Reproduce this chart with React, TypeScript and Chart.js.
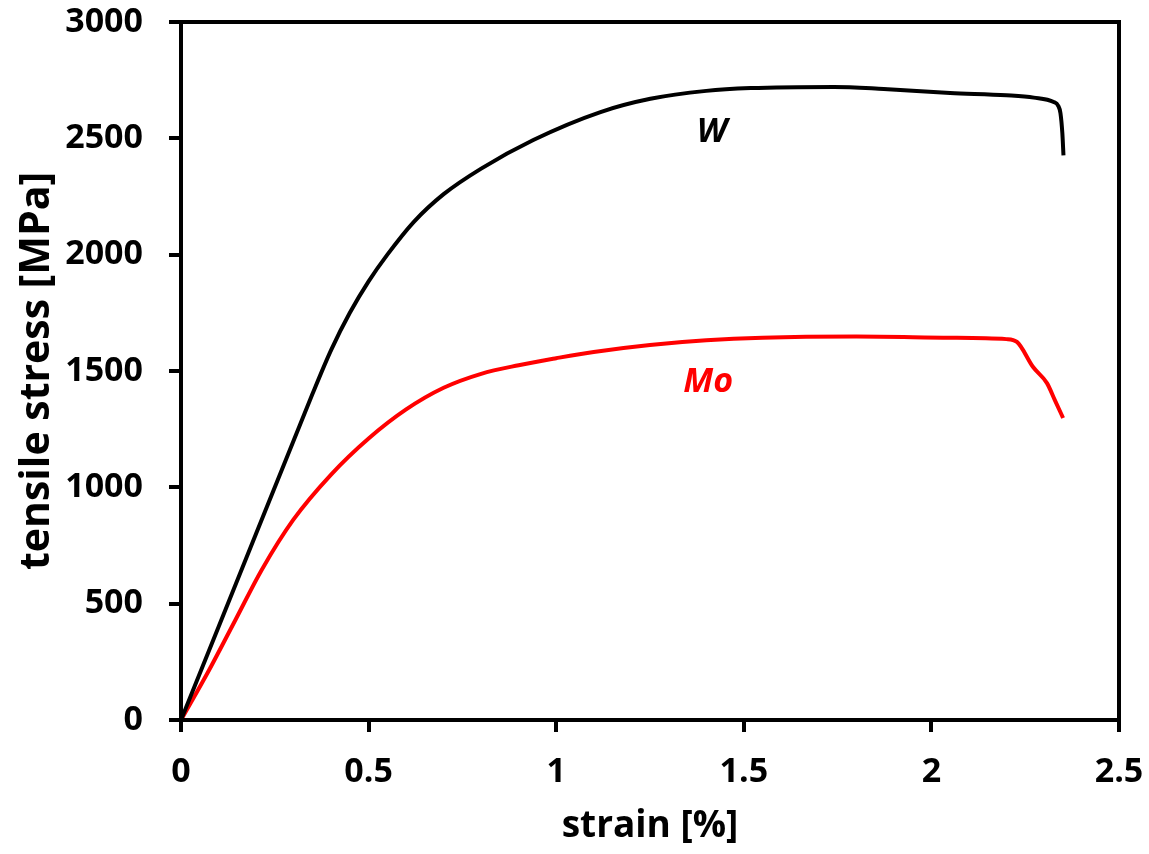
import React, { useEffect, useRef } from "react";
import { Chart, registerables } from "chart.js";

Chart.register(...registerables);

// ---- data ----
const wStrain = [0, 0.1, 0.2, 0.3, 0.35, 0.4, 0.45, 0.5, 0.55, 0.62, 0.7, 0.8, 0.939, 1.118, 1.251, 1.4, 1.518, 1.74, 1.873, 2.05, 2.2, 2.273, 2.326, 2.338, 2.344, 2.349, 2.352];
const wStress = [0, 400, 800, 1200, 1400, 1590, 1750, 1885, 2000, 2140, 2260, 2370, 2493, 2613, 2670, 2704, 2716, 2721, 2712, 2695, 2685, 2675, 2656, 2640, 2608, 2522, 2427];

const moStrain = [0, 0.075, 0.145, 0.215, 0.299, 0.4, 0.5, 0.6, 0.7, 0.8, 0.9, 1.0, 1.1, 1.25, 1.4, 1.55, 1.8, 2.05, 2.2, 2.228, 2.271, 2.308, 2.329, 2.351];
const moStress = [0, 215, 430, 645, 860, 1055, 1210, 1335, 1428, 1488, 1525, 1555, 1582, 1612, 1632, 1643, 1648, 1643, 1637, 1625, 1517, 1448, 1375, 1298];

const xTicks = [0, 0.5, 1, 1.5, 2, 2.5];
const yTicks = [0, 500, 1000, 1500, 2000, 2500, 3000];

const seriesNames = ["W", "Mo"];
const seriesColors = ["#000000", "#ff0000"];
// label anchor positions (data coordinates)
const labelStrain = [1.415, 1.405];
const labelStress = [2527, 1453];

const FONT = "'Open Sans', 'Noto Sans', sans-serif";

export default function App() {
  const ref = useRef<HTMLCanvasElement | null>(null);

  useEffect(() => {
    const canvas = ref.current;
    if (!canvas) return;

    const zeroPad = (s: any) => {
      s.paddingLeft = 0;
      s.paddingRight = 0;
      s.paddingTop = 0;
      s.paddingBottom = 0;
    };

    const framePlugin = {
      id: "frame",
      afterDatasetsDraw(chart: any) {
        const { ctx, chartArea, scales } = chart;
        ctx.save();
        ctx.strokeStyle = "#000";
        ctx.lineWidth = 4;
        ctx.strokeRect(chartArea.left, chartArea.top, chartArea.right - chartArea.left, chartArea.bottom - chartArea.top);
        ctx.font = `italic bold 34px ${FONT}`;
        ctx.textAlign = "center";
        ctx.textBaseline = "middle";
        seriesNames.forEach((name, i) => {
          ctx.fillStyle = seriesColors[i];
          ctx.fillText(name, scales.x.getPixelForValue(labelStrain[i]), scales.y.getPixelForValue(labelStress[i]));
        });
        ctx.restore();
      },
    };

    const chart = new Chart(canvas, {
      type: "line",
      data: {
        datasets: [
          {
            label: seriesNames[0],
            data: wStrain.map((x, i) => ({ x, y: wStress[i] })),
            borderColor: seriesColors[0],
            borderWidth: 4,
            pointRadius: 0,
            cubicInterpolationMode: "monotone",
            fill: false,
          },
          {
            label: seriesNames[1],
            data: moStrain.map((x, i) => ({ x, y: moStress[i] })),
            borderColor: seriesColors[1],
            borderWidth: 4,
            pointRadius: 0,
            cubicInterpolationMode: "monotone",
            fill: false,
          },
        ],
      },
      options: {
        responsive: false,
        animation: false,
        layout: { padding: { top: 22, right: 30, left: 0, bottom: 0 } },
        plugins: {
          legend: { display: false },
          tooltip: { enabled: false },
        },
        scales: {
          x: {
            type: "linear",
            min: 0,
            max: 2.5,
            afterBuildTicks: (s: any) => {
              s.ticks = xTicks.map((v) => ({ value: v }));
            },
            afterFit: (s: any) => {
              s.height = 134;
              zeroPad(s);
            },
            ticks: {
              color: "#000",
              font: { family: FONT, size: 34, weight: "bold" },
              padding: 20,
              maxRotation: 0,
              callback: (v: any) => String(v),
            },
            grid: { drawOnChartArea: false, drawTicks: true, tickLength: 12, lineWidth: 4, color: "#000" },
            border: { display: true, color: "#000", width: 4 },
            title: {
              display: true,
              text: "strain [%]",
              color: "#000",
              font: { family: FONT, size: 37, weight: "bold" },
              padding: { top: 0, bottom: 5 },
            },
          },
          y: {
            type: "linear",
            min: 0,
            max: 3000,
            afterBuildTicks: (s: any) => {
              s.ticks = yTicks.map((v) => ({ value: v }));
            },
            afterFit: (s: any) => {
              s.width = 181;
              zeroPad(s);
            },
            ticks: {
              color: "#000",
              font: { family: FONT, size: 34, weight: "bold" },
              padding: 26,
              callback: (v: any) => String(v),
            },
            grid: { drawOnChartArea: false, drawTicks: true, tickLength: 12, lineWidth: 4, color: "#000" },
            border: { display: true, color: "#000", width: 4 },
            title: {
              display: true,
              text: "tensile stress [MPa]",
              color: "#000",
              font: { family: FONT, size: 41, weight: "bold" },
              padding: { top: 13, bottom: 0 },
            },
          },
        },
      },
      plugins: [framePlugin],
    } as any);

    return () => chart.destroy();
  }, []);

  return (
    <div style={{ position: "absolute", left: 0, top: 0, width: 1149, height: 854, background: "#fff" }}>
      <canvas ref={ref} width={1149} height={854} style={{ display: "block" }} />
    </div>
  );
}
